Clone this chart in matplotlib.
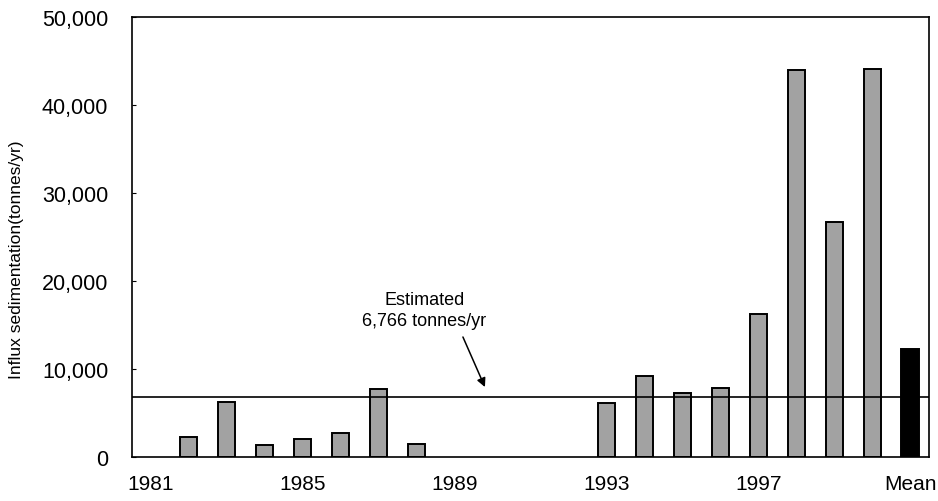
import matplotlib.pyplot as plt

plt.rcParams['font.family'] = ['Liberation Sans', 'DejaVu Sans']

years = [1982, 1983, 1984, 1985, 1986, 1987, 1988,
         1993, 1994, 1995, 1996, 1997, 1998, 1999, 2000]
influx = [2300, 6300, 1350, 2100, 2700, 7700, 1500,
          6100, 9200, 7300, 7800, 16250, 44000, 26700, 44050]
mean_pos = 2001
mean_value = 12300
estimated = 6766

tick_pos = [1981, 1985, 1989, 1993, 1997, 2001]
tick_labels = ["1981", "1985", "1989", "1993", "1997", "Mean"]
y_ticks = [0, 10000, 20000, 30000, 40000, 50000]

fig = plt.figure(figsize=(9.38, 5.02), dpi=100)
ax = fig.add_axes([0.1407, 0.0876, 0.8497, 0.8765])

ax.bar(years, influx, width=0.45, color="#a2a2a2", edgecolor="black", linewidth=1.4, zorder=2)
ax.bar([mean_pos], [mean_value], width=0.45, color="black", edgecolor="black", linewidth=1.4, zorder=2)
ax.axhline(estimated, color="black", linewidth=1.2, zorder=3)

# label and arrow for the estimated line
ax.text(1988.2, 16700, "Estimated\n6,766 tonnes/yr", ha="center", va="center",
        fontsize=13, linespacing=1.25)
ax.annotate("", xy=(1989.80, 7950), xytext=(1989.22, 13640),
            arrowprops=dict(arrowstyle="-|>", color="black", lw=1.1, mutation_scale=13,
                            shrinkA=0, shrinkB=0))

ax.set_xlim(1980.5, 2001.5)
ax.set_ylim(0, 50000)
ax.set_xticks(tick_pos)
ax.set_xticklabels(tick_labels)
ax.set_yticks(y_ticks)
ax.set_yticklabels([f"{v:,}" for v in y_ticks])
ax.tick_params(axis="y", direction="in", length=3, labelsize=15.5, pad=17)
ax.tick_params(axis="x", length=0, labelsize=15, pad=12)
ax.set_ylabel("Influx sedimentation(tonnes/yr)", fontsize=12.5)
ax.yaxis.set_label_coords(-0.1355, 0.45)

for s in ax.spines.values():
    s.set_linewidth(1.2)

fig.savefig("out.png", dpi=100)
